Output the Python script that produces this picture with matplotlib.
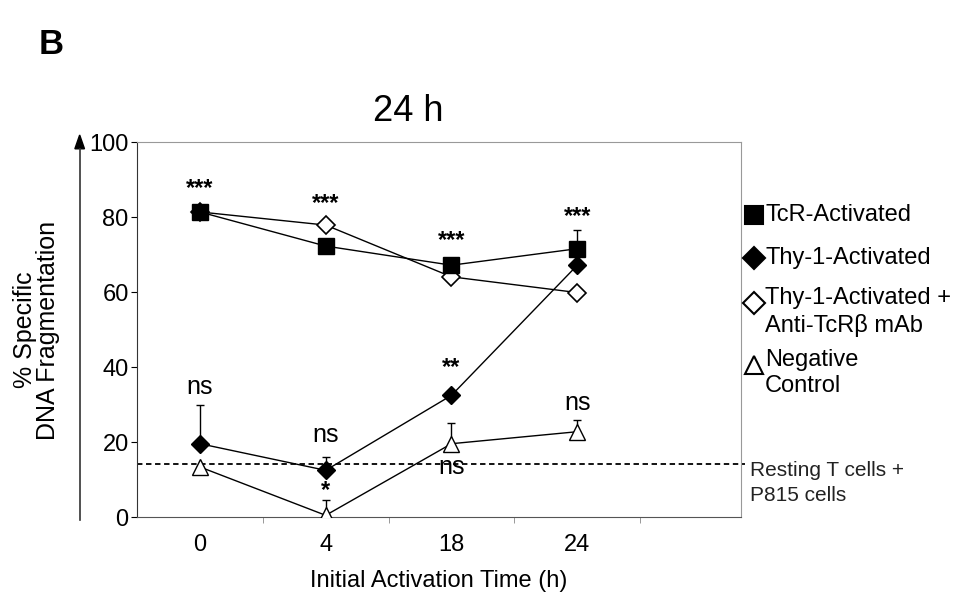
import matplotlib.pyplot as plt
import numpy as np

plt.rcParams['font.family'] = ['Liberation Sans', 'DejaVu Sans']

# data
categories = ['0', '4', '18', '24']
tcr = [81.4, 72.3, 67.2, 71.6]
tcr_err = [0, 0, 0, 5.0]
thy1 = [19.6, 12.5, 32.5, 67.2]
thy1_err = [10.3, 3.5, 0, 0]
thy1_anti = [81.4, 77.9, 64.1, 59.9]
neg = [13.4, 0.5, 19.6, 22.8]
neg_err = [0, 4.0, 5.4, 3.1]
resting = 14.3

upper_marks = ['***', '***', '***', '***']
upper_marks_y = [87.7, 83.7, 73.9, 80.3]
lower_marks = ['ns', 'ns', '**', 'ns']
lower_marks_y = [34.8, 21.9, 40.0, 30.4]
neg_marks = ['', '*', 'ns', '']
neg_marks_y = [0, 7.2, 13.4, 0]

x = np.arange(len(categories)) + 0.5

fig = plt.figure(figsize=(9.6, 6), dpi=100)
ax = fig.add_axes([0.1427, 0.138, 0.629, 0.625])

lw = 1.0
ax.errorbar(x, thy1, yerr=[np.zeros(4), thy1_err], color='black', lw=lw,
            marker='D', ms=9, mfc='black', mec='black', capsize=3, zorder=3)
ax.errorbar(x, tcr, yerr=[np.zeros(4), tcr_err], color='black', lw=lw,
            marker='s', ms=11, mfc='black', mec='black', capsize=3, zorder=4)
ax.plot(x, thy1_anti, color='black', lw=lw, marker='D', ms=9,
        mfc='white', mec='black', mew=1.2, zorder=3)
ax.errorbar(x, neg, yerr=[np.zeros(4), neg_err], color='black', lw=lw,
            marker='^', ms=12, mfc='white', mec='black', mew=1.0, capsize=3, zorder=3)

ax.plot([0, 4.83], [resting, resting], ls=(0, (3, 2)), color='black', lw=1.3,
        clip_on=False, zorder=2)
ax.text(4.87, resting + 0.6, 'Resting T cells +\nP815 cells', fontsize=15,
        va='top', ha='left', linespacing=1.35, color='#222222')

def star_style(m):
    if m == 'ns':
        return dict(fontsize=18)
    return dict(fontsize=17, fontweight='bold')

for xi, m, y in zip(x, upper_marks, upper_marks_y):
    ax.text(xi, y, m, ha='center', va='center', **star_style(m))
for xi, m, y in zip(x, lower_marks, lower_marks_y):
    ax.text(xi, y, m, ha='center', va='center', **star_style(m))
for xi, m, y in zip(x, neg_marks, neg_marks_y):
    if m:
        ax.text(xi, y, m, ha='center', va='center', **star_style(m))

ax.set_xlim(0, 4.8)
ax.set_ylim(0, 100)
ax.set_xticks(x)
ax.set_xticklabels(categories, fontsize=17)
ax.set_xticks([1, 2, 3, 4], minor=True)
ax.tick_params(axis='x', which='major', length=0, pad=12)
ax.tick_params(axis='x', which='minor', length=4, direction='out', color='#888888')
ax.set_yticks([0, 20, 40, 60, 80, 100])
ax.tick_params(axis='y', labelsize=17, length=4, direction='out', pad=2)
for s in ['top', 'right']:
    ax.spines[s].set_color('#999999')
ax.spines['bottom'].set_color('#555555')
ax.spines['left'].set_color('#333333')

ax.set_xlabel('Initial Activation Time (h)', fontsize=17, labelpad=10)
fig.text(0.425, 0.815, '24 h', fontsize=26, ha='center', va='center')

# y label with arrow
fig.text(0.038, 0.45, '% Specific\nDNA Fragmentation', rotation=90, fontsize=18,
         ha='center', va='center', linespacing=0.98)
fig.add_artist(plt.Line2D([0.083, 0.083], [0.133, 0.752], color='#333333', lw=1.2))
fig.patches.append(plt.Polygon([[0.078, 0.752], [0.088, 0.752], [0.083, 0.775]],
                               closed=True, color='black', transform=fig.transFigure, figure=fig))

fig.text(0.04, 0.925, 'B', fontsize=25, fontweight='bold', ha='left', va='center')

# legend drawn by hand
leg_items = [('s', 'black', 'TcR-Activated', 0.642),
             ('D', 'black', 'Thy-1-Activated', 0.570),
             ('D', 'white', 'Thy-1-Activated +\nAnti-TcR\u03b2 mAb', 0.495),
             ('^', 'white', 'Negative\nControl', 0.392)]
for mk, fc, label, ty in leg_items:
    fig.add_artist(plt.Line2D([0.785], [ty], marker=mk, ms=13 if mk != 'D' else 11,
                              mfc=fc, mec='black', mew=1.5, ls='none'))
    if '\n' in label:
        fig.text(0.797, ty + 0.026, label, fontsize=17, va='top', ha='left', linespacing=1.25)
    else:
        fig.text(0.797, ty, label, fontsize=17, va='center', ha='left')

fig.savefig('out.png', dpi=100)
